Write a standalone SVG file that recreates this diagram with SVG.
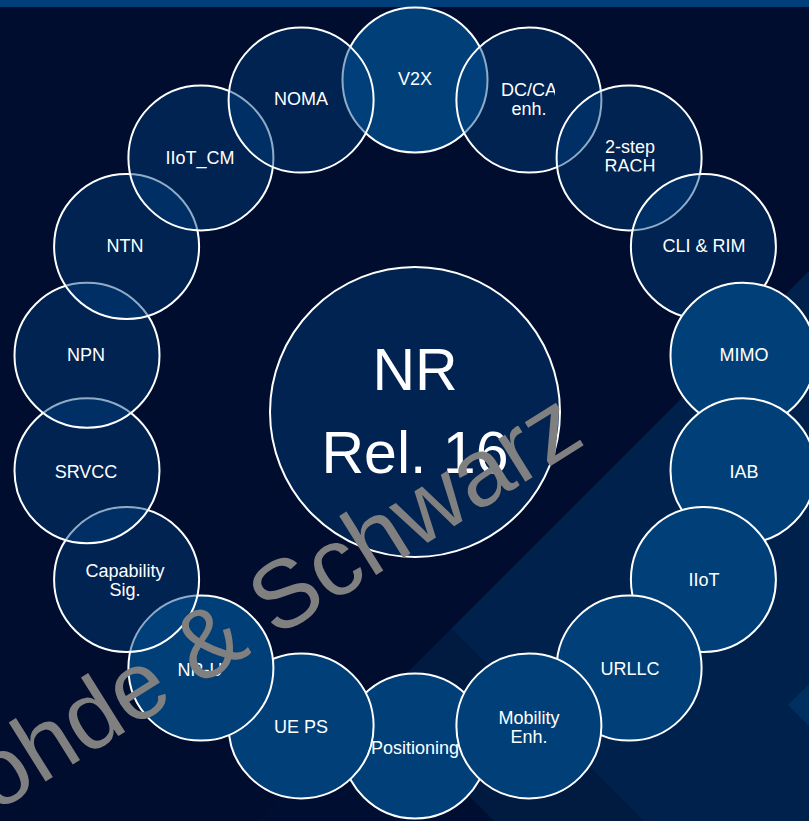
<svg xmlns="http://www.w3.org/2000/svg" width="809" height="821" viewBox="0 0 809 821">
  <style>
    .lt { fill: #003F77; stroke: #FFFFFF; stroke-width: 2; }
    .dk { fill: #004080; fill-opacity: 0.44; stroke: #FFFFFF; stroke-width: 2; }
    .lb { font-family: "Liberation Sans", Arial, sans-serif; font-size: 18px; fill: #FFFFFF; text-anchor: middle; }
    .big { font-family: "Liberation Sans", Arial, sans-serif; font-size: 59px; fill: #FFFFFF; text-anchor: middle; }
    .wm { font-family: "Liberation Sans", Arial, sans-serif; font-size: 96px; fill: #808080; }
  </style>
  <defs>
    <clipPath id="clipDC"><rect x="440" y="20" width="115" height="160"/></clipPath>
    <clipPath id="clipRACH"><rect x="550" y="80" width="160" height="91.5"/></clipPath>
  </defs>

  <!-- background -->
  <rect x="0" y="0" width="809" height="821" fill="#000D2E"/>
  <polygon points="809,271 809,821 259,821" fill="#001A40"/>
  <polygon points="451.5,628.5 644,821 809,821 809,271" fill="#00214B"/>
  <polygon points="376.5,703.5 494,821 259,821" fill="#000F31"/>
  <polygon points="788,705 809,684 809,726" fill="#00305F"/>
  <rect x="0" y="0" width="809" height="7" fill="#003F7A"/>

  <!-- center node -->
  <g id="center">
    <circle class="dk" cx="415" cy="412" r="145"/>
    <text class="big" x="415" y="390">NR</text>
    <text class="big" x="415" y="473">Rel. 16</text>
  </g>

  <g id="positioning">
    <circle class="lt" cx="415" cy="746" r="72.5"/>
    <text class="lb" x="415" y="754">Positioning</text>
  </g>
  <g id="ue-ps">
    <circle class="lt" cx="301.1" cy="725.9" r="72.5"/>
    <text class="lb" x="301" y="733">UE PS</text>
  </g>
  <g id="nr-u">
    <circle class="lt" cx="200.9" cy="668.1" r="72.5"/>
    <text class="lb" x="200" y="676">NR-U</text>
  </g>
  <g id="capability-sig">
    <circle class="dk" cx="126.6" cy="579.5" r="72.5"/>
    <text class="lb" x="125" y="577">Capability</text>
    <text class="lb" x="125" y="596">Sig.</text>
  </g>
  <g id="srvcc">
    <circle class="dk" cx="87" cy="470.8" r="72.5"/>
    <text class="lb" x="86" y="478">SRVCC</text>
  </g>
  <g id="npn">
    <circle class="dk" cx="87" cy="355.2" r="72.5"/>
    <text class="lb" x="86" y="361">NPN</text>
  </g>
  <g id="ntn">
    <circle class="dk" cx="126.6" cy="246.5" r="72.5"/>
    <text class="lb" x="125" y="252">NTN</text>
  </g>
  <g id="iiot-cm">
    <circle class="dk" cx="200.9" cy="157.9" r="72.5"/>
    <text class="lb" x="200" y="164">IIoT_CM</text>
  </g>
  <g id="v2x">
    <circle class="lt" cx="415" cy="80" r="72.5"/>
    <text class="lb" x="415" y="85">V2X</text>
  </g>
  <g id="noma">
    <circle class="dk" cx="301.1" cy="100.1" r="72.5"/>
    <text class="lb" x="301" y="105">NOMA</text>
  </g>
  <g id="dc-ca-enh">
    <circle class="dk" cx="528.9" cy="100.1" r="72.5"/>
    <g clip-path="url(#clipDC)">
      <text class="lb" x="529" y="96">DC/CA</text>
      <text class="lb" x="529" y="115">enh.</text>
    </g>
  </g>
  <g id="two-step-rach">
    <circle class="dk" cx="629.1" cy="157.9" r="72.5"/>
    <g clip-path="url(#clipRACH)">
      <text class="lb" x="630" y="153">2-step</text>
      <text class="lb" x="630" y="172">RACH</text>
    </g>
  </g>
  <g id="cli-rim">
    <circle class="dk" cx="703.4" cy="246.5" r="72.5"/>
    <text class="lb" x="704" y="252">CLI &amp; RIM</text>
  </g>
  <g id="mimo">
    <circle class="lt" cx="743" cy="355.2" r="72.5"/>
    <text class="lb" x="744" y="361">MIMO</text>
  </g>
  <g id="iab">
    <circle class="lt" cx="743" cy="470.8" r="72.5"/>
    <text class="lb" x="744" y="478">IAB</text>
  </g>
  <g id="iiot">
    <circle class="lt" cx="703.4" cy="579.5" r="72.5"/>
    <text class="lb" x="704" y="586">IIoT</text>
  </g>
  <g id="urllc">
    <circle class="lt" cx="629.1" cy="668.1" r="72.5"/>
    <text class="lb" x="630" y="675">URLLC</text>
  </g>
  <g id="mobility-enh">
    <circle class="lt" cx="528.9" cy="725.9" r="72.5"/>
    <text class="lb" x="529" y="724">Mobility</text>
    <text class="lb" x="529" y="743">Enh.</text>
  </g>

  <!-- watermark -->
  <text class="wm" x="-64" y="850" transform="rotate(-32 -64 850)">Rohde &amp; Schwarz</text>
</svg>
